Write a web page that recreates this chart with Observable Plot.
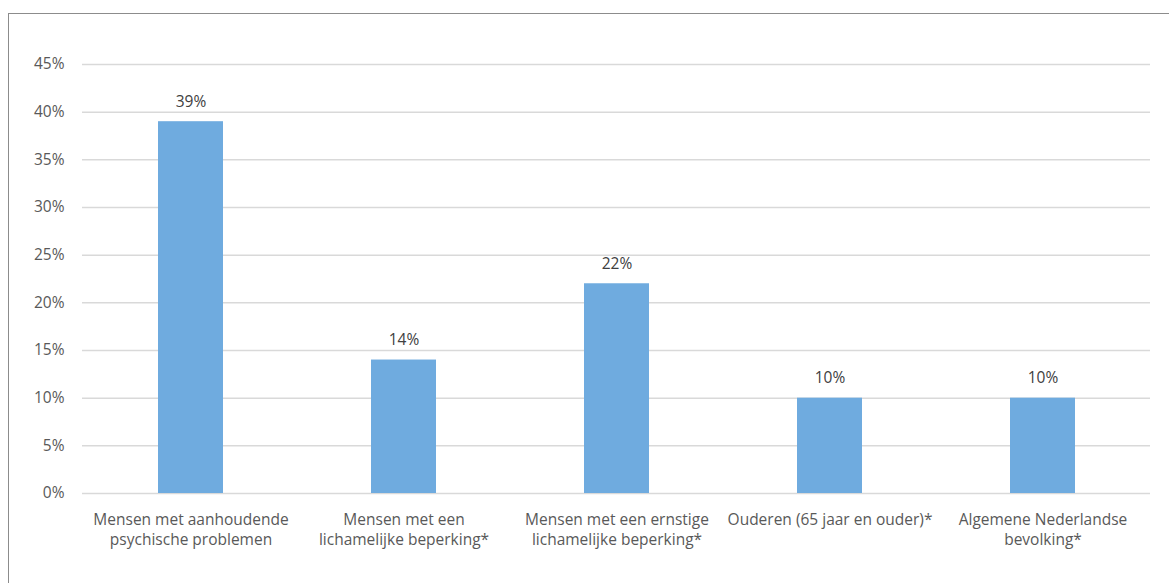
<!DOCTYPE html>
<html><head><meta charset="utf-8">
<script src="https://cdn.jsdelivr.net/npm/d3@7"></script>
<script src="https://cdn.jsdelivr.net/npm/@observablehq/plot@0.6"></script>
<style>
body{margin:0;background:#fff;}
#wrap{position:relative;width:1169px;height:583px;overflow:hidden;}
#frame{position:absolute;left:8px;top:13px;width:1200px;height:600px;border-top:1.5px solid #8c8c8c;border-left:1.5px solid #8c8c8c;pointer-events:none;}
#chart{position:absolute;left:0;top:0;}
</style></head>
<body><div id="wrap"><div id="chart"></div><div id="frame"></div></div>
<script>
const categories = [
  "Mensen met aanhoudende\npsychische problemen",
  "Mensen met een\nlichamelijke beperking*",
  "Mensen met een ernstige\nlichamelijke beperking*",
  "Ouderen (65 jaar en ouder)*",
  "Algemene Nederlandse\nbevolking*"
];
const values = [0.39, 0.14, 0.22, 0.10, 0.10];
const yTicks = [0, 0.05, 0.10, 0.15, 0.20, 0.25, 0.30, 0.35, 0.40, 0.45];

const data = categories.map((c, i) => ({cat: c, val: values[i]}));
const font = "'Open Sans', sans-serif";
const chart = Plot.plot({
  width: 1169, height: 583,
  marginLeft: 82, marginRight: 19, marginTop: 64, marginBottom: 90,
  style: {fontFamily: font, fontSize: "15.5px", color: "#595959", background: "transparent"},
  x: {domain: categories, paddingInner: 0.695, paddingOuter: 0.3475, label: null},
  y: {domain: [0, 0.45], label: null},
  marks: [
    Plot.ruleY(yTicks, {stroke: "#d9d9d9", strokeWidth: 1.5}),
    Plot.barY(data, {x: "cat", y: "val", fill: "#6fabdf"}),
    Plot.text(data, {x: "cat", y: "val", text: d => Math.round(d.val * 100) + "%", dy: -20, fill: "#404040", fontSize: 15.5}),
    Plot.axisY({ticks: yTicks, tickFormat: d => Math.round(d * 100) + "%", tickSize: 0, tickPadding: 18, fontSize: 15.5, label: null}),
    Plot.axisX({tickSize: 0, tickPadding: 17, fontSize: 15.5, lineHeight: 1.3, label: null})
  ]
});
document.getElementById("chart").appendChild(chart);
</script></body></html>
